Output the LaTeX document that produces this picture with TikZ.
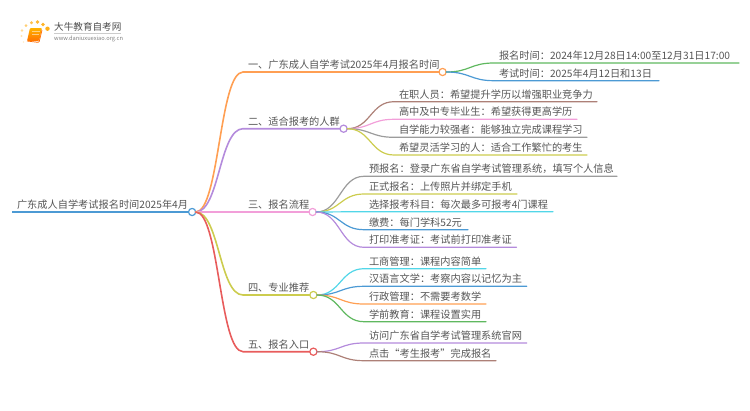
\documentclass[tikz,border=0pt]{standalone}
\usepackage{fontspec}
\setmainfont{Noto Sans CJK SC}
\usetikzlibrary{calc}
\definecolor{cOrange}{HTML}{FF9F53}
\definecolor{cPurple}{HTML}{B48BDC}
\definecolor{cPink}{HTML}{F29FD9}
\definecolor{cOlive}{HTML}{CCCC4E}
\definecolor{cRed}{HTML}{E85C5C}
\definecolor{cGreen}{HTML}{5FB85F}
\definecolor{cBlue}{HTML}{4C9AD4}
\definecolor{cBrown}{HTML}{AD8077}
\definecolor{cGrey}{HTML}{9C9C9C}
\definecolor{cCyan}{HTML}{52D6E8}
\definecolor{cText}{HTML}{555555}
\tikzset{
  lbl/.style={anchor=south west,inner xsep=5pt,inner ysep=1.5pt,outer sep=0pt,text height=8.5pt,text depth=2pt,font=\fontsize{10.2}{12}\selectfont,text=cText,align=left},
  hub/.style={circle,draw=#1,fill=white,line width=1.2pt,minimum size=7.2pt,inner sep=0pt,outer sep=0pt,anchor=west},
  curve/.style={line width=#1,line cap=round},
}
\newcommand{\leafitem}[7]{%
  \pgfmathsetmacro{\tw}{#4-#3-10}%
  \node[lbl,text width=\tw pt] (#1) at (#3,#5) {\mbox{#7}};
  \coordinate (mid#1) at ($(#2.east)!.5!(#1.south west)$);
  \draw[#6,curve=1.2pt] (#2.east) .. controls (mid#1 |- #2.east) and (mid#1 |- #1.south west) .. (#1.south west) -- (#1.south east);
}
\newcommand{\branchitem}[6]{%
  \pgfmathsetmacro{\tw}{#3-243-10}%
  \node[lbl,text width=\tw pt] (#1) at (243,#4) {\mbox{#6}};
  \coordinate (mid#1) at ($(rootHub.east)!.5!(#1.south west)$);
  \draw[#5,curve=1.6pt] (rootHub.east) .. controls (mid#1 |- rootHub.east) and (mid#1 |- #1.south west) .. (#1.south west) -- (#1.south east);
  \node[hub=#5] (#2) at (#1.south east) {};
}
\begin{document}
\begin{tikzpicture}[x=1pt,y=-1pt]
\useasboundingbox (0,0) rectangle (750,410);
% logo
\foreach \px/\py/\pr/\po in {47.5/28.7/2.2/90,43/24.5/1.9/85,37.5/22/1.9/80,31.5/22.7/1.7/70,26/25.7/1.5/55,22/30.5/1.3/40,21.5/36/1.1/30,23.5/42/.9/20}
  \fill[orange!70!yellow,opacity=\po/100] (\px,\py) circle (\pr);
\shade[top color=orange!60!yellow,bottom color=orange!90!red,rounded corners=1pt] (30,28) -- (42,28) -- (39,41) -- (27,41) -- cycle;
\draw[orange!85!red,line width=.7pt,rounded corners=1pt] (27,41) -- (39,42.5) -- (42,30);
\fill[white,opacity=.5] (32,31) rectangle (39.5,32);
\fill[white,opacity=.5] (31.5,33.5) rectangle (39,34.3);
\node[anchor=west,inner sep=0pt,font=\fontsize{9.6}{11}\selectfont,text=black!70] (logoTitle) at (54,27) {大牛教育自考网};
\draw[black!20,line width=.5pt] (54,33.3) -- (121,33.3);
\node[anchor=west,inner sep=0pt,font=\fontsize{5.7}{7}\selectfont,text=black!50] (logoUrl) at (54,38.7) {www.daniuxuexiao.org.cn};
% root
\node[lbl,text width=166.5pt] (root) at (12,212) {\mbox{广东成人自学考试报名时间2025年4月}};
\draw[cBlue,line width=1.8pt] (root.south west) -- (root.south east);
\node[hub=cBlue] (rootHub) at (root.south east) {};
% branches
\branchitem{b1}{h1}{439}{72}{cOrange}{一、广东成人自学考试2025年4月报名时间}
\branchitem{b2}{h2}{340}{128.7}{cPurple}{二、适合报考的人群}
\branchitem{b3}{h3}{309}{212}{cPink}{三、报名流程}
\branchitem{b4}{h4}{309.8}{295}{cOlive}{四、专业推荐}
\branchitem{b5}{h5}{309.8}{351.7}{cRed}{五、报名入口}
% leaves 1
\leafitem{a1}{h1}{494}{739}{63}{cGreen}{报名时间：2024年12月28日14:00至12月31日17:00}
\leafitem{a2}{h1}{494}{659}{80.7}{cBlue}{考试时间：2025年4月12日和13日}
% leaves 2
\leafitem{c1}{h2}{394}{597}{101.7}{cBrown}{在职人员：希望提升学历以增强职业竞争力}
\leafitem{c2}{h2}{394}{577}{119.3}{cPink}{高中及中专毕业生：希望获得更高学历}
\leafitem{c3}{h2}{394}{587}{137.3}{cGrey}{自学能力较强者：能够独立完成课程学习}
\leafitem{c4}{h2}{394}{587}{155}{cOlive}{希望灵活学习的人：适合工作繁忙的考生}
% leaves 3
\leafitem{d1}{h3}{364}{617}{176.3}{cGrey}{预报名：登录广东省自学考试管理系统，填写个人信息}
\leafitem{d2}{h3}{364}{517}{194}{cOlive}{正式报名：上传照片并绑定手机}
\leafitem{d3}{h3}{364}{553}{211.7}{cCyan}{选择报考科目：每次最多可报考4门课程}
\leafitem{d4}{h3}{364}{468}{229.7}{cBlue}{缴费：每门学科52元}
\leafitem{d5}{h3}{364}{516.5}{247.3}{cPurple}{打印准考证：考试前打印准考证}
% leaves 4
\leafitem{e1}{h4}{364}{486}{268.7}{cCyan}{工商管理：课程内容简单}
\leafitem{e2}{h4}{364}{526.7}{286.3}{cBlue}{汉语言文学：考察内容以记忆为主}
\leafitem{e3}{h4}{364}{486}{304}{cOrange}{行政管理：不需要考数学}
\leafitem{e4}{h4}{364}{486}{321.7}{cGreen}{学前教育：课程设置实用}
% leaves 5
\leafitem{f1}{h5}{364}{526.7}{343}{cPurple}{访问广东省自学考试管理系统官网}
\leafitem{f2}{h5}{364}{496}{360.7}{cBrown}{点击“考生报考”完成报名}
\end{tikzpicture}
\end{document}
